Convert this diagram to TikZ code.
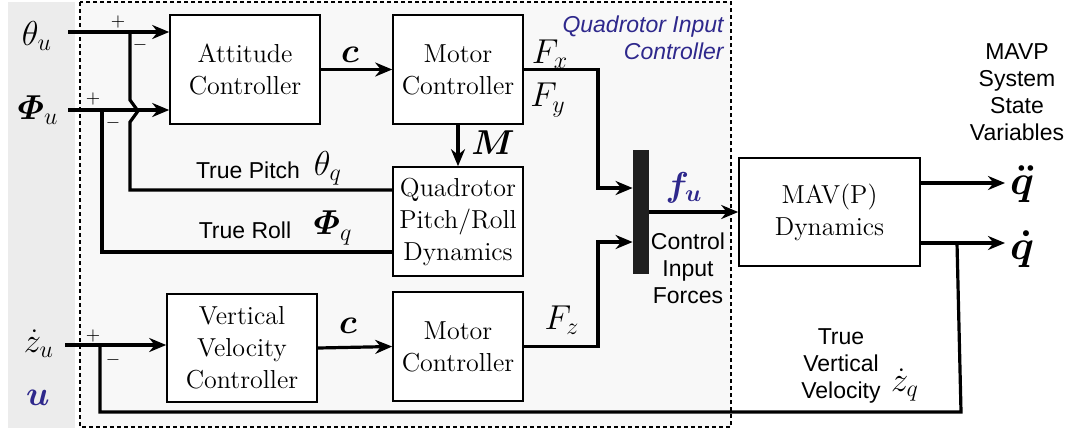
\documentclass[tikz,border=0pt]{standalone}
\usepackage{amsmath}
\usepackage{fontspec}
\setsansfont{Liberation Sans}
\usetikzlibrary{arrows.meta}

\definecolor{quadblue}{RGB}{46,40,140}
\definecolor{panelgray}{RGB}{236,236,236}
\definecolor{innergray}{RGB}{248,248,248}

\tikzset{
	block/.style={draw, line width=0.8pt, fill=white, inner sep=0pt, align=center, font=\fontsize{13}{16}\selectfont},
	sig/.style={line width=1.6pt},
	sym/.style={font=\fontsize{17}{20}\selectfont, inner sep=0pt},
	note/.style={font=\sffamily\fontsize{11.5}{13.5}\selectfont, align=center, inner sep=0pt},
	sgn/.style={font=\fontsize{9}{9}\selectfont, inner sep=0pt},
}

\begin{document}
\begin{tikzpicture}[x=0.5pt, y=-0.5pt, >={Stealth[length=8.5pt,width=7pt]}]
	\useasboundingbox (0,0) rectangle (1069,430);
	
	% input panel and controller region
	\fill[panelgray] (8,2) rectangle (75,428);
	\fill[innergray] (80,2) rectangle (731,427);
	\draw[line width=0.9pt, dash pattern=on 2pt off 1.5pt] (80,2) rectangle (731,427);
	
	% blocks
	\node[block, minimum width=75pt, minimum height=54.5pt] (att) at (245,69.5) {Attitude\\Controller};
	\node[block, minimum width=65pt, minimum height=54.5pt] (mc1) at (458,69.5) {Motor\\Controller};
	\node[block, minimum width=65pt, minimum height=54.5pt] (qpr) at (458,221.5) {Quadrotor\\Pitch/Roll\\Dynamics};
	\node[block, minimum width=75pt, minimum height=54pt] (vvc) at (242,348) {Vertical\\Velocity\\Controller};
	\node[block, minimum width=65pt, minimum height=54.5pt] (mc2) at (458,346.5) {Motor\\Controller};
	\node[block, minimum width=90.5pt, minimum height=54pt] (mav) at (829.5,212) {MAV(P)\\Dynamics};
	\node[fill=black!88, minimum width=8pt, minimum height=62pt, inner sep=0pt] (mux) at (641,212) {};
	
	% reference inputs
	\node[sym] (thu) at (37,36) {$\theta_u$};
	\node[sym] (phu) at (38,110) {$\boldsymbol{\varPhi}_u$};
	\node[sym] (zu) at (39,344) {$\dot{z}_u$};
	\node[sym, text=quadblue] (u) at (38,398) {$\boldsymbol{u}$};
	
	\coordinate (thin) at (68,32);
	\coordinate (phin) at (68,110);
	\coordinate (zin) at (65,345);
	\coordinate (j1) at (130,32);
	\coordinate (j2) at (102,110);
	\coordinate (j3) at (100,345);
	
	\draw[sig,->] (thin) -- (thin -| att.west);
	\draw[sig,->] (phin) -- (phin -| att.west);
	\draw[sig,->] (zin) -- (zin -| vvc.west);
	
	% summing signs
	\node[sgn] at (118,22) {$+$};
	\node[sgn] at (140,45) {$-$};
	\node[sgn] at (93,99) {$+$};
	\node[sgn] at (113,123) {$-$};
	\node[sgn] at (93,336) {$+$};
	\node[sgn] at (113,360) {$-$};
	
	% pitch and roll feedback (pitch hops over roll input)
	\coordinate (tp) at (130,190);
	\coordinate (tr) at (102,252);
	\draw[sig] (qpr.west |- tp) -- (tp) -- (130,122) -- (138,111) -- (130,100) -- (j1);
	\draw[sig] (qpr.west |- tr) -- (tr) -- (j2);
	\node[note] at (248,170) {True Pitch};
	\node[sym] at (328,168) {$\theta_q$};
	\node[note] at (245,230) {True Roll};
	\node[sym] at (333,228) {$\boldsymbol{\varPhi}_q$};
	
	% forward path
	\draw[sig,->] (att.east) -- (mc1.west);
	\node[sym] at (350,55) {$\boldsymbol{c}$};
	\draw[sig,->] (mc1.south) -- (qpr.north);
	\node[sym] at (493,143) {$\boldsymbol{M}$};
	\draw[sig,->] (vvc.east) -- (mc2.west);
	\node[sym] at (348,326) {$\boldsymbol{c}$};
	
	\coordinate (fxy) at (598,188);
	\coordinate (fz) at (598,242);
	\draw[sig,->] (mc1.east) -| (fxy) -- (fxy -| mux.west);
	\draw[sig,->] (mc2.east) -| (fz) -- (fz -| mux.west);
	\node[sym] at (550,54) {$F_x$};
	\node[sym] at (548,100) {$F_y$};
	\node[sym] at (562,320) {$F_z$};
	
	\draw[sig,->] (mux.east) -- (mav.west);
	\node[sym, text=quadblue] at (684,188) {$\boldsymbol{f_u}$};
	\node[note] at (688,268) {Control\\Input\\Forces};
	\node[note, anchor=east, align=right, text=quadblue, font=\sffamily\itshape\fontsize{11.5}{13.5}\selectfont] at (724,38) {Quadrotor Input\\Controller};
	
	% state outputs
	\coordinate (qddo) at (1005,183);
	\coordinate (qdo) at (1005,243);
	\draw[sig,->] (mav.east |- qddo) -- (qddo);
	\draw[sig,->] (mav.east |- qdo) -- (qdo);
	\node[sym, font=\fontsize{20}{24}\selectfont] (qdd) at (1022,184) {$\boldsymbol{\ddot{q}}$};
	\node[sym, font=\fontsize{20}{24}\selectfont] (qd) at (1022,249) {$\boldsymbol{\dot{q}}$};
	\node[note] at (1017,92) {MAVP\\System\\State\\Variables};
	
	% vertical velocity feedback
	\coordinate (fb) at (957,243);
	\draw[sig] (fb) -- (961,412) -- (100,412) -- (j3);
	\node[note] at (841,366) {True\\Vertical\\Velocity};
	\node[sym] at (905,385) {$\dot{z}_q$};
	
\end{tikzpicture}
\end{document}
